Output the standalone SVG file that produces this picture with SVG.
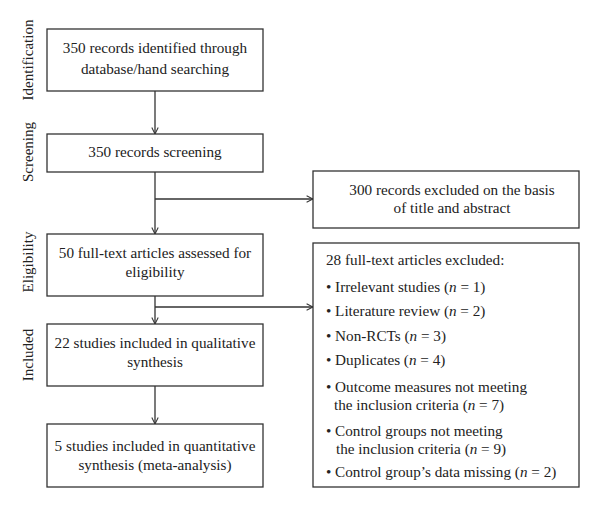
<svg xmlns="http://www.w3.org/2000/svg" width="600" height="508" viewBox="0 0 600 508">
<style>
.box{fill:#fff;stroke:#333;stroke-width:1.3}
.t{font-family:"Liberation Serif","Times New Roman",serif;font-size:15.2px;fill:#222}
.c{text-anchor:middle}
.side{font-family:"Liberation Serif","Times New Roman",serif;font-size:15px;fill:#222;text-anchor:middle}
.ln{fill:none;stroke:#333;stroke-width:1.3}
</style>
<defs>
<marker id="ah" viewBox="0 0 10 10" refX="9" refY="5" markerWidth="8" markerHeight="8" orient="auto" markerUnits="userSpaceOnUse">
<path d="M1,1 L9,5 L1,9" fill="none" stroke="#333" stroke-width="1.3"/>
</marker>
</defs>
<rect width="600" height="508" fill="#fff"/>
<g id="labels">
<text class="side" transform="translate(33,60) rotate(-90)">Identification</text>
<text class="side" transform="translate(33,152) rotate(-90)">Screening</text>
<text class="side" transform="translate(33,262) rotate(-90)">Eligibility</text>
<text class="side" transform="translate(33,355) rotate(-90)">Included</text>
</g>
<g id="connectors">
<path class="ln" d="M155,91 V134" marker-end="url(#ah)"/>
<path class="ln" d="M155,172 V234" marker-end="url(#ah)"/>
<path class="ln" d="M155,199 H313" marker-end="url(#ah)"/>
<path class="ln" d="M155,296 V324" marker-end="url(#ah)"/>
<path class="ln" d="M155,307 H313" marker-end="url(#ah)"/>
<path class="ln" d="M155,386 V424" marker-end="url(#ah)"/>
</g>
<g id="n1"><rect class="box" x="47" y="29" width="216" height="62"/>
<text class="t c" x="155" y="53">350 records identified through</text>
<text class="t c" x="155" y="74">database/hand searching</text></g>
<g id="n2"><rect class="box" x="47" y="134" width="216" height="38"/>
<text class="t c" x="155" y="157">350 records screening</text></g>
<g id="n3"><rect class="box" x="47" y="234" width="216" height="62"/>
<text class="t c" x="155" y="258">50 full-text articles assessed for</text>
<text class="t c" x="155" y="277">eligibility</text></g>
<g id="n4"><rect class="box" x="47" y="324" width="216" height="62"/>
<text class="t c" x="155" y="348">22 studies included in qualitative</text>
<text class="t c" x="155" y="367">synthesis</text></g>
<g id="n5"><rect class="box" x="47" y="424" width="216" height="63"/>
<text class="t c" x="155" y="451">5 studies included in quantitative</text>
<text class="t c" x="155" y="470">synthesis (meta-analysis)</text></g>
<g id="n6"><rect class="box" x="313" y="171" width="266" height="57"/>
<text class="t c" x="452" y="195">300 records excluded on the basis</text>
<text class="t c" x="452" y="213">of title and abstract</text></g>
<g id="n7"><rect class="box" x="313" y="243" width="266" height="244"/>
<text class="t" x="326" y="265">28 full-text articles excluded:</text>
<text class="t" x="326" y="292">• Irrelevant studies (<tspan font-style="italic">n</tspan> = 1)</text>
<text class="t" x="326" y="316">• Literature review (<tspan font-style="italic">n</tspan> = 2)</text>
<text class="t" x="326" y="341">• Non-RCTs (<tspan font-style="italic">n</tspan> = 3)</text>
<text class="t" x="326" y="365">• Duplicates (<tspan font-style="italic">n</tspan> = 4)</text>
<text class="t" x="326" y="392">• Outcome measures not meeting</text>
<text class="t" x="334" y="410">the inclusion criteria (<tspan font-style="italic">n</tspan> = 7)</text>
<text class="t" x="326" y="436">• Control groups not meeting</text>
<text class="t" x="336" y="454">the inclusion criteria (<tspan font-style="italic">n</tspan> = 9)</text>
<text class="t" x="326" y="477">• Control group’s data missing (<tspan font-style="italic">n</tspan> = 2)</text></g>
</svg>
